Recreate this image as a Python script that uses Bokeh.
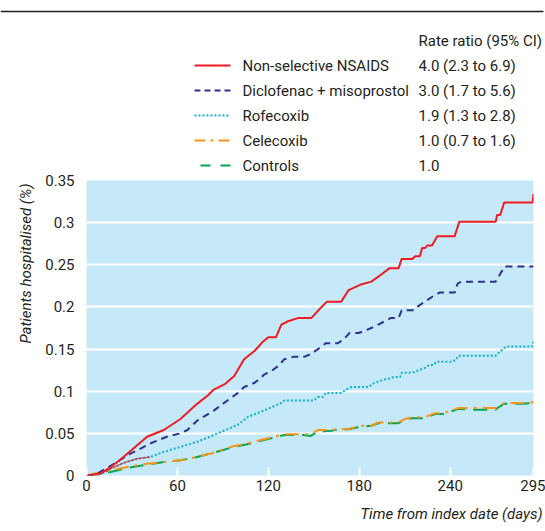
from bokeh.plotting import figure
from bokeh.layouts import column
from bokeh.models import Range1d, FixedTicker, Title
from bokeh.core.properties import value
from bokeh.embed import file_html
from bokeh.resources import INLINE

FONT = "Roboto"
FS = "15px"
TXT = "#231f20"

# ---------------- data ----------------
series_names = ["Non-selective NSAIDS", "Diclofenac + misoprostol", "Rofecoxib", "Celecoxib", "Controls"]
rate_ratios = ["4.0 (2.3 to 6.9)", "3.0 (1.7 to 5.6)", "1.9 (1.3 to 2.8)", "1.0 (0.7 to 1.6)", "1.0"]
ratio_header = "Rate ratio (95% CI)"

x_ticks = [0, 60, 120, 180, 240, 295]
y_ticks = [0, 0.05, 0.1, 0.15, 0.2, 0.25, 0.3, 0.35]
y_tick_labels = ["0", "0.05", "0.1", "0.15", "0.2", "0.25", "0.3", "0.35"]

nsaid_days = [0, 9, 16, 22.5, 29, 40, 51, 62, 73, 80, 84, 91, 97.5, 104, 111, 116, 120, 125, 128.6, 133,
              140, 148.5, 153, 158.5, 168, 173, 181.7, 188, 195, 200, 206, 208, 215, 217, 220, 221.5, 223.5,
              225, 228, 230, 231.5, 243, 246, 270, 271, 273, 275.7, 294.4, 295]
nsaid_vals = [0, 0.002, 0.01, 0.019, 0.029, 0.046, 0.054, 0.067, 0.085, 0.095, 0.102, 0.108, 0.118, 0.138,
              0.148, 0.158, 0.164, 0.164, 0.179, 0.183, 0.187, 0.187, 0.196, 0.206, 0.206, 0.22, 0.227, 0.23,
              0.239, 0.246, 0.246, 0.257, 0.257, 0.26, 0.26, 0.27, 0.27, 0.273, 0.273, 0.279, 0.284, 0.284,
              0.301, 0.301, 0.309, 0.309, 0.324, 0.324, 0.334]

diclo_days = [0, 6, 13.7, 20, 29, 35.7, 42, 53, 62, 66.6, 73, 84, 93, 100, 104, 111, 117.5, 122, 126.6,
              130.6, 137, 144, 148, 153.6, 158, 166, 170, 173.5, 179.5, 182.6, 188, 192.5, 199, 201, 206,
              208, 216, 219, 223, 229, 233, 243, 245, 247.7, 270, 273, 276, 295]
diclo_vals = [0, 0.001, 0.009, 0.016, 0.026, 0.032, 0.038, 0.046, 0.05, 0.054, 0.065, 0.077, 0.089, 0.098,
              0.105, 0.11, 0.12, 0.124, 0.13, 0.138, 0.141, 0.141, 0.144, 0.151, 0.157, 0.157, 0.162, 0.169,
              0.169, 0.171, 0.175, 0.179, 0.185, 0.187, 0.187, 0.196, 0.196, 0.201, 0.206, 0.213, 0.217,
              0.217, 0.228, 0.23, 0.23, 0.239, 0.248, 0.248]

rofe_days = [0, 10, 17, 24.6, 33.6, 42, 51, 62, 73, 84, 93, 100.7, 106, 117, 128.5, 130.6, 150, 152.6, 156,
             158, 168, 171.5, 175, 186, 190, 196.7, 200, 203, 207, 208, 215, 218, 221, 223.6, 226, 229, 231,
             241, 243.7, 245.5, 270, 271, 273, 275.5, 277, 294, 295]
rofe_vals = [0, 0.002, 0.009, 0.015, 0.02, 0.022, 0.028, 0.034, 0.04, 0.048, 0.055, 0.061, 0.069, 0.077,
             0.086, 0.089, 0.089, 0.093, 0.093, 0.098, 0.098, 0.102, 0.105, 0.105, 0.11, 0.114, 0.115, 0.117,
             0.117, 0.122, 0.122, 0.124, 0.126, 0.128, 0.131, 0.131, 0.135, 0.135, 0.137, 0.142, 0.142,
             0.144, 0.147, 0.151, 0.153, 0.153, 0.159]

# thin red trace visible over the early part of the rofecoxib curve
trace_days = [13, 17, 24.6, 33.6, 42]
trace_vals = [0.005, 0.009, 0.015, 0.02, 0.022]

cele_days = [0, 7, 18, 27, 40, 51, 62, 73, 84, 95.4, 106, 117, 130.6, 148, 152.6, 161.6, 166, 172.6, 181.5,
             188, 192.5, 205.7, 210, 214.6, 223, 230, 235.7, 245.5, 270, 272, 275.5, 287.6, 295]
cele_vals = [0, 0.003, 0.007, 0.01, 0.014, 0.016, 0.018, 0.022, 0.027, 0.034, 0.038, 0.043, 0.049, 0.049,
             0.054, 0.054, 0.055, 0.055, 0.059, 0.059, 0.063, 0.063, 0.067, 0.069, 0.069, 0.074, 0.074, 0.08,
             0.08, 0.082, 0.086, 0.086, 0.087]

ctrl_days = [0, 7, 18, 27, 40, 51, 62, 73, 84, 95.4, 106, 117, 130.6, 143, 148, 152.6, 161.6, 166, 172.6,
             181.5, 188, 192.5, 205.7, 210, 214.6, 223, 230, 235.7, 245.5, 254, 270, 272, 275.5, 287.6, 294, 295]
ctrl_vals = [0, 0.001, 0.005, 0.009, 0.013, 0.016, 0.018, 0.022, 0.027, 0.033, 0.037, 0.042, 0.048, 0.048,
             0.047, 0.052, 0.053, 0.055, 0.055, 0.058, 0.059, 0.062, 0.062, 0.066, 0.068, 0.068, 0.073, 0.073,
             0.079, 0.078, 0.078, 0.081, 0.085, 0.085, 0.086, 0.088]

colors = ["#ed1c24", "#2e3192", "#14b1c6", "#f7941d", "#00a651"]
dashes = ["solid", "6 4", "2 2", "11 5 3 5", "10 10"]
plot_dashes = ["solid", "7 5", "2 2", "14 6 3 6", "14 8"]

W = 545
LEG_H = 174

# ---------------- legend panel (pixel-like coordinates, rows by index) ----------------
# row r is centred at 65 + 25*r px from the top of the page
leg = figure(width=W, height=LEG_H, x_range=Range1d(0, W),
             y_range=Range1d((LEG_H - 65) / 25, -65 / 25),
             x_axis_type=None, y_axis_type=None, output_backend="svg", toolbar_location=None,
             min_border=0)
leg.frame_align = False
leg.outline_line_color = None
leg.grid.visible = False
rule_row = (11 - 65) / 25
leg.line(x=[0, 543], y=[rule_row, rule_row], line_color=TXT, line_width=1.5)

leg.text(x=[418], y=[-1], text=[ratio_header], text_baseline="middle", text_color=TXT,
         text_font=value(FONT), text_font_size=FS)
rows = list(range(len(series_names)))
leg.text(x=[242] * len(rows), y=rows, text=series_names, text_baseline="middle", text_color=TXT,
         text_font=value(FONT), text_font_size=FS)
leg.text(x=[418] * len(rows), y=rows, text=rate_ratios, text_baseline="middle", text_color=TXT,
         text_font=value(FONT), text_font_size=FS)
for i in rows:
    x0 = 200 if i == 4 else 194
    leg.line(x=[x0, 230], y=[i, i], line_color=colors[i], line_width=2, line_dash=dashes[i])

# ---------------- main plot ----------------
p = figure(width=W, height=531 - LEG_H, x_range=Range1d(0, 295), y_range=Range1d(0, 0.35),
           output_backend="svg", toolbar_location=None,
           min_border_left=86, min_border_right=12, min_border_top=180 - LEG_H, min_border_bottom=52)
p.frame_align = False
p.background_fill_color = "#c6e9f9"
p.outline_line_color = None
p.xgrid.visible = False
p.ygrid.grid_line_color = "white"
p.ygrid.grid_line_width = 2
p.ygrid.ticker = FixedTicker(ticks=y_ticks)

p.xaxis.ticker = FixedTicker(ticks=x_ticks)
p.yaxis.ticker = FixedTicker(ticks=y_ticks)
p.yaxis.major_label_overrides = {t: l for t, l in zip(y_ticks, y_tick_labels)}
p.xaxis.major_label_overrides = {t: str(t) for t in x_ticks}
for ax in (p.xaxis, p.yaxis):
    ax.axis_line_color = None
    ax.minor_tick_line_color = None
    ax.major_label_text_font = FONT
    ax.major_label_text_font_size = FS
    ax.major_label_text_color = TXT
p.yaxis.major_tick_line_color = None
p.yaxis.major_label_standoff = 6
p.xaxis.major_tick_line_color = "white"
p.xaxis.major_tick_line_width = 2
p.xaxis.major_tick_in = 8
p.xaxis.major_tick_out = 0
p.xaxis.major_label_standoff = 4

p.add_layout(Title(text="Time from index date (days)", align="right", text_font=FONT,
                   text_font_size=FS, text_font_style="italic", text_color=TXT,
                   offset=-9, standoff=18), "below")
p.add_layout(Title(text="Patients hospitalised (%)", align="right", text_font=FONT,
                   text_font_size=FS, text_font_style="italic", text_color=TXT,
                   standoff=16, offset=3), "left")

p.line(ctrl_days, ctrl_vals, line_color=colors[4], line_width=2, line_dash=plot_dashes[4])
p.line(cele_days, cele_vals, line_color=colors[3], line_width=2, line_dash=plot_dashes[3])
p.line(rofe_days, rofe_vals, line_color=colors[2], line_width=2, line_dash=plot_dashes[2])
p.line(diclo_days, diclo_vals, line_color=colors[1], line_width=2, line_dash=plot_dashes[1])
p.line(nsaid_days, nsaid_vals, line_color=colors[0], line_width=2)
p.line(trace_days, trace_vals, line_color=colors[0], line_width=1)

layout = column(leg, p, spacing=0)
open("out.html", "w").write(file_html(layout, INLINE))
